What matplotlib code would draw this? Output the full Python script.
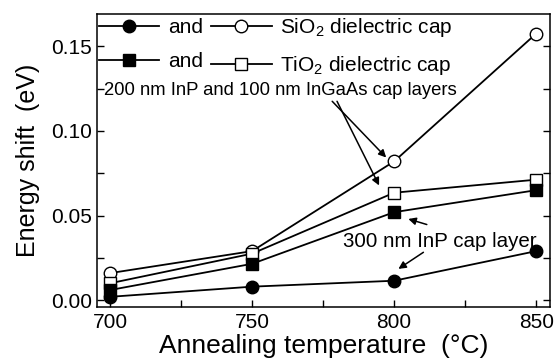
import matplotlib
matplotlib.use('Agg')
import matplotlib.pyplot as plt
from matplotlib.lines import Line2D
from matplotlib.ticker import MultipleLocator

plt.rcParams['font.family'] = ['Liberation Sans', 'DejaVu Sans']
plt.rcParams['mathtext.fontset'] = 'custom'
plt.rcParams['mathtext.rm'] = 'Liberation Sans'

temps = [700, 750, 800, 850]
sio2_inp = [0.002, 0.008, 0.0115, 0.029]      # filled circles
sio2_ingaas = [0.016, 0.029, 0.082, 0.1575]   # open circles
tio2_inp = [0.006, 0.0215, 0.052, 0.065]      # filled squares
tio2_ingaas = [0.010, 0.0275, 0.0635, 0.0712] # open squares

fig = plt.figure(figsize=(5.54, 3.62), dpi=100)
ax = fig.add_axes([0.175, 0.152, 0.818, 0.809])

lw = 1.3
cms, sms = 9, 8
ax.plot(temps, sio2_inp, '-o', color='black', lw=lw, ms=cms, mfc='black', zorder=3)
ax.plot(temps, sio2_ingaas, '-o', color='black', lw=lw, ms=cms, mfc='white', zorder=3)
ax.plot(temps, tio2_inp, '-s', color='black', lw=lw, ms=sms, mfc='black', zorder=4)
ax.plot(temps, tio2_ingaas, '-s', color='black', lw=lw, ms=sms, mfc='white', zorder=3)

ax.set_xlim(695.4, 854.9)
ax.set_ylim(-0.004, 0.169)
ax.xaxis.set_major_locator(MultipleLocator(50))
ax.xaxis.set_minor_locator(MultipleLocator(25))
ax.yaxis.set_major_locator(MultipleLocator(0.05))
ax.yaxis.set_minor_locator(MultipleLocator(0.025))
ax.yaxis.set_major_formatter(plt.FormatStrFormatter('%.2f'))
ax.tick_params(which='both', direction='in', right=True, labelsize=15, width=1)
ax.tick_params(which='both', length=5)
ax.tick_params(axis='x', pad=4)
for s in ax.spines.values():
    s.set_linewidth(1.1)

ax.set_xlabel('Annealing temperature  (\u00b0C)', fontsize=19, labelpad=2)
ax.set_ylabel('Energy shift  (eV)', fontsize=18, labelpad=8)

handles = [
    Line2D([], [], color='black', marker='o', ms=cms, mfc='black', lw=lw),
    Line2D([], [], color='black', marker='s', ms=sms, mfc='black', lw=lw),
    Line2D([], [], color='black', marker='o', ms=cms, mfc='white', lw=lw),
    Line2D([], [], color='black', marker='s', ms=sms, mfc='white', lw=lw),
]
labels = ['and', 'and',
          'SiO$_\\mathregular{2}$ dielectric cap',
          'TiO$_\\mathregular{2}$ dielectric cap']
ax.legend(handles, labels, ncol=2, loc='upper left', frameon=False,
          fontsize=15, handlelength=2.9, handletextpad=0.4,
          columnspacing=0.4, borderaxespad=0.0, borderpad=0.1,
          labelspacing=0.72)

ax.text(0.015, 0.74, '200 nm InP and 100 nm InGaAs cap layers',
        transform=ax.transAxes, fontsize=13.3, va='center', ha='left')
arrow = dict(arrowstyle='-|>', color='black', lw=1.1, mutation_scale=11,
             shrinkA=0, shrinkB=0)
ax.annotate('', xy=(797.2, 0.0843), xytext=(778.2, 0.1175), arrowprops=arrow)
ax.annotate('', xy=(794.7, 0.0678), xytext=(779.9, 0.1175), arrowprops=arrow)

ax.text(0.543, 0.222, '300 nm InP cap layer', transform=ax.transAxes,
        fontsize=14.8, va='center', ha='left')
ax.annotate('', xy=(805.0, 0.048), xytext=(811.5, 0.0447), arrowprops=arrow)
ax.annotate('', xy=(801.5, 0.0185), xytext=(810.3, 0.0283), arrowprops=arrow)

fig.savefig('out.png', dpi=100)
